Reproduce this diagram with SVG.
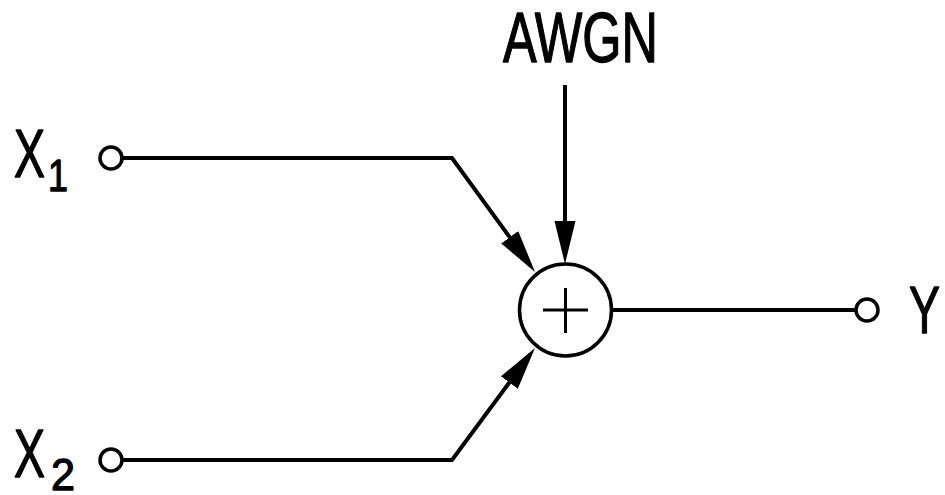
<svg xmlns="http://www.w3.org/2000/svg" width="945" height="495" viewBox="0 0 945 495">
<style>
.w{fill:none;stroke:#000;stroke-width:4;stroke-linejoin:miter}
.t{fill:#fff;stroke:#000;stroke-width:3.5}
.lbl{font-family:"Liberation Sans",Arial,sans-serif;fill:#000;stroke:#000;stroke-width:1.3;stroke-linejoin:round}
.sub{font-size:45px}
</style>
<defs>
<marker id="ah" markerUnits="userSpaceOnUse" markerWidth="44" markerHeight="24" viewBox="0 -12 44 24" refX="35" refY="0" orient="auto">
<path d="M0,-10.5 L43,0 L0,10.5 z" fill="#000"/>
</marker>
</defs>
<rect width="945" height="495" fill="#fff"/>
<g id="connectors">
<polyline class="w" points="122,158 452,158 530.3,265.5" marker-end="url(#ah)"/>
<polyline class="w" points="122,460 452,460 530.2,354.4" marker-end="url(#ah)"/>
<line class="w" x1="565" y1="85" x2="565" y2="256" marker-end="url(#ah)"/>
<line class="w" x1="612" y1="310" x2="856" y2="310"/>
</g>
<g id="x1">
<circle class="t" cx="111" cy="158" r="11"/>
<text class="lbl" x="14" y="177" font-size="68"><tspan textLength="31" lengthAdjust="spacingAndGlyphs">X</tspan><tspan class="sub" x="48" y="191" textLength="20" lengthAdjust="spacingAndGlyphs">1</tspan></text>
</g>
<g id="x2">
<circle class="t" cx="111" cy="460" r="11"/>
<text class="lbl" x="14" y="477" font-size="68"><tspan textLength="31" lengthAdjust="spacingAndGlyphs">X</tspan><tspan class="sub" x="51" y="490" textLength="24" lengthAdjust="spacingAndGlyphs">2</tspan></text>
</g>
<g id="awgn">
<text class="lbl" x="503" y="62" font-size="70" textLength="155" lengthAdjust="spacingAndGlyphs">AWGN</text>
</g>
<g id="sum">
<circle cx="565.5" cy="310" r="46" fill="#fff" stroke="#000" stroke-width="3.5"/>
<path d="M543,310 H588 M565.5,288 V333" stroke="#000" stroke-width="3" fill="none"/>
</g>
<g id="y">
<circle class="t" cx="867" cy="310" r="11"/>
<text class="lbl" x="909" y="333" font-size="66" textLength="31" lengthAdjust="spacingAndGlyphs">Y</text>
</g>
</svg>
